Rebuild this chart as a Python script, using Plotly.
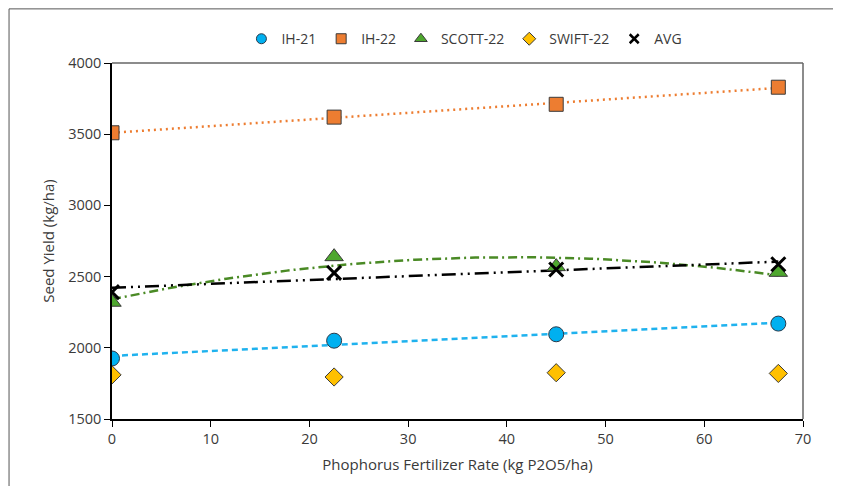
import numpy as np
import plotly.graph_objects as go

rates = [0, 22.5, 45, 67.5]
ih21 = [1925, 2050, 2095, 2170]
ih22 = [3510, 3620, 3710, 3830]
scott22 = [2320, 2640, 2570, 2530]
swift22 = [1810, 1795, 1825, 1820]
avg = [2391, 2526, 2550, 2587]

FONT = "Open Sans"
TXT = "#3a3a3a"
fig = go.Figure()

xs = np.linspace(0, 67.5, 100)

def trend(y, deg):
    c = np.polyfit(rates, y, deg)
    return np.polyval(c, xs)

# trendlines
fig.add_trace(go.Scatter(x=xs, y=trend(ih21, 1), mode="lines", showlegend=False,
                         line=dict(color="#1FB2EE", width=2.5, dash="6px,4px"), hoverinfo="skip"))
fig.add_trace(go.Scatter(x=xs, y=trend(ih22, 1), mode="lines", showlegend=False,
                         line=dict(color="#ED7D31", width=2.5, dash="2px,4px"), hoverinfo="skip"))
fig.add_trace(go.Scatter(x=xs, y=trend(scott22, 2), mode="lines", showlegend=False,
                         line=dict(color="#4A8A25", width=2.5, dash="9px,4px,2px,4px"), hoverinfo="skip"))
fig.add_trace(go.Scatter(x=xs, y=trend(avg, 1), mode="lines", showlegend=False,
                         line=dict(color="#000000", width=2.5, dash="14px,5px,2px,5px,2px,5px"), hoverinfo="skip"))

series = [
    ("IH-21", ih21, "circle", 15, 10, "#00B0F0", "#2a3a4a", 1),
    ("IH-22", ih22, "square", 14, 10, "#ED7D31", "#3a3a3a", 1),
    ("SCOTT-22", scott22, "triangle-up", 16, 11, "#4EA72E", "#3a3a3a", 1),
    ("SWIFT-22", swift22, "diamond", 14, 10, "#FFC000", "#3a3a3a", 1),
    ("AVG", avg, "x-thin", 14, 9, "#000000", "#000000", 3),
]
for name, ys, sym, size, lsize, col, lcol, lw in series:
    fig.add_trace(go.Scatter(x=rates, y=ys, mode="markers", name=name, showlegend=False,
                             marker=dict(symbol=sym, size=size, color=col,
                                         line=dict(color=lcol, width=lw))))
for name, ys, sym, size, lsize, col, lcol, lw in series:
    fig.add_trace(go.Scatter(x=[None], y=[None], mode="markers", name=name,
                             marker=dict(symbol=sym, size=lsize, color=col,
                                         line=dict(color=lcol, width=lw if lw < 2 else 2.5))))

fig.update_layout(
    width=833, height=478,
    margin=dict(l=104, r=38, t=55, b=67, autoexpand=False),
    paper_bgcolor="white", plot_bgcolor="white",
    font=dict(family=FONT, size=14, color=TXT),
    legend=dict(orientation="h", x=0.51, xanchor="center", y=1.067, yanchor="middle",
                font=dict(family=FONT, size=14, color=TXT),
                itemwidth=30, tracegroupgap=0),
    shapes=[
        dict(type="rect", xref="paper", yref="paper", x0=-0.149, x1=1.049, y0=-0.3, y1=1.152,
             line=dict(color="#555555", width=1), layer="below"),
        dict(type="line", xref="paper", yref="paper", x0=0, x1=1, y0=1, y1=1,
             line=dict(color="#666666", width=1.5)),
        dict(type="line", xref="paper", yref="paper", x0=1, x1=1, y0=0, y1=1,
             line=dict(color="#666666", width=1.5)),
    ],
)

fig.update_xaxes(range=[0, 70], dtick=10, tick0=0, showgrid=False, zeroline=False,
                 automargin=False,
                 showline=True, linecolor="#000000", linewidth=1.5,
                 ticks="outside", ticklen=6, tickcolor="#000000",
                 tickfont=dict(family=FONT, size=14.5, color=TXT),
                 title=dict(text="Phophorus Fertilizer Rate (kg P2O5/ha)", standoff=12,
                            font=dict(family=FONT, size=15, color=TXT)))
fig.update_yaxes(range=[1500, 4000], dtick=500, showgrid=False, zeroline=False,
                 automargin=False,
                 showline=True, linecolor="#000000", linewidth=1.5,
                 ticks="outside", ticklen=6, tickcolor="#000000",
                 tickfont=dict(family=FONT, size=14.5, color=TXT),
                 title=dict(text="Seed Yield (kg/ha)", standoff=10,
                            font=dict(family=FONT, size=15, color=TXT)))

fig.write_html("out.html")
